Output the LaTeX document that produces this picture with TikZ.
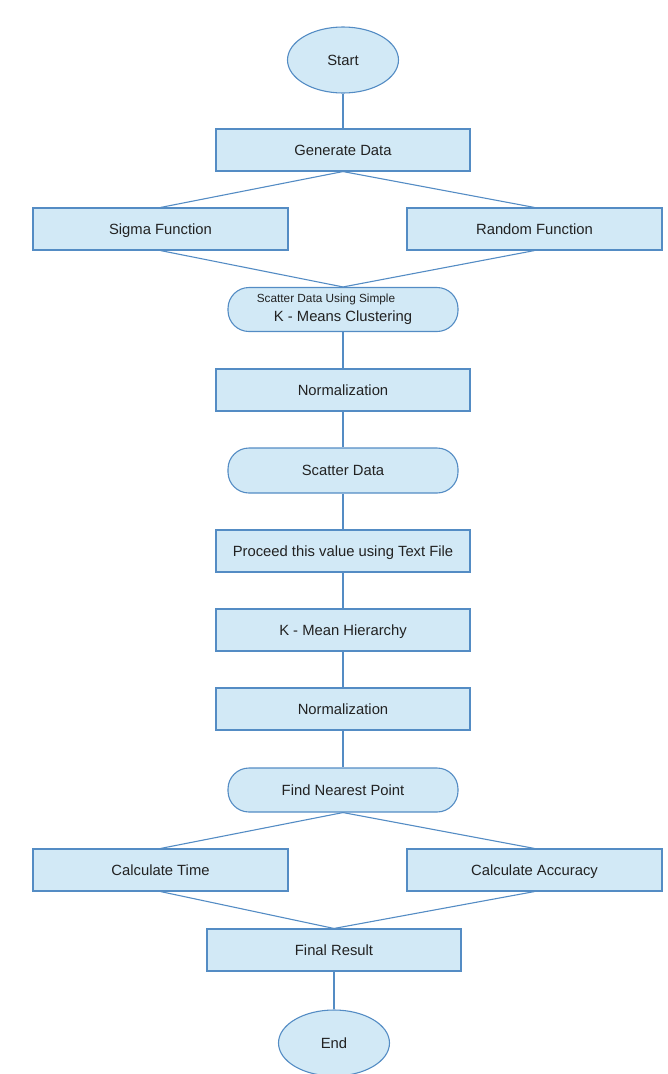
\documentclass[tikz,border=0pt]{standalone}
\usepackage{fontspec}
\setmainfont{Liberation Sans}
\usepackage{tikz}
\usetikzlibrary{shapes.geometric}

\definecolor{flowline}{RGB}{84,140,196}
\definecolor{flowfill}{RGB}{210,233,246}
\definecolor{flowtext}{RGB}{34,34,34}

\begin{document}
\begin{tikzpicture}[
  x=1pt, y=-1pt,
  every node/.style={text=flowtext, font=\fontsize{14.8}{18}\selectfont, text height=10.6pt, text depth=0pt},
  block/.style={draw=flowline, fill=flowfill, line width=1.1pt, inner sep=0pt, minimum width=254pt, minimum height=42pt},
  term/.style={draw=flowline, fill=flowfill, line width=1.1pt, ellipse, inner sep=0pt, minimum width=111pt, minimum height=66pt},
  roundbox/.style={draw=flowline, fill=flowfill, line width=1.1pt, rounded corners=21pt, inner sep=0pt, minimum width=230pt, minimum height=44pt, align=center},
  link/.style={draw=flowline, line width=1.1pt}
]
\useasboundingbox (0,0) rectangle (668,1074);

% Nodes
\node[term] (start) at (343,60) {Start};
\node[block] (gen) at (343,150) {Generate Data};
\node[block, minimum width=255pt] (sigma) at (160.5,229) {Sigma Function};
\node[block, minimum width=255pt] (random) at (534.5,229) {Random Function};
\node[roundbox, text height=, text depth=] (kmeans) at (343,309.5) {{\fontsize{11.8}{13}\selectfont\hspace*{-34pt}Scatter Data Using Simple}\\[1pt]K - Means Clustering};
\node[block] (norm1) at (343,390) {Normalization};
\node[roundbox, minimum height=45pt] (scatter) at (343,470.5) {Scatter Data};
\node[block] (proceed) at (343,551) {Proceed this value using Text File};
\node[block] (hier) at (343,630) {K - Mean Hierarchy};
\node[block] (norm2) at (343,709) {Normalization};
\node[roundbox] (nearest) at (343,790) {Find Nearest Point};
\node[block, minimum width=255pt] (time) at (160.5,870) {Calculate Time};
\node[block, minimum width=255pt] (accuracy) at (534.5,870) {Calculate Accuracy};
\node[block] (final) at (334,950) {Final Result};
\node[term] (end) at (334,1043) {End};

% Connectors
\draw[link] (start) -- (gen);
\draw[link] (gen.south) -- (sigma.north);
\draw[link] (gen.south) -- (random.north);
\draw[link] (sigma.south) -- (kmeans.north);
\draw[link] (random.south) -- (kmeans.north);
\draw[link] (kmeans) -- (norm1);
\draw[link] (norm1) -- (scatter);
\draw[link] (scatter) -- (proceed);
\draw[link] (proceed) -- (hier);
\draw[link] (hier) -- (norm2);
\draw[link] (norm2) -- (nearest);
\draw[link] (nearest.south) -- (time.north);
\draw[link] (nearest.south) -- (accuracy.north);
\draw[link] (time.south) -- (final.north);
\draw[link] (accuracy.south) -- (final.north);
\draw[link] (final) -- (end);
\end{tikzpicture}
\end{document}
